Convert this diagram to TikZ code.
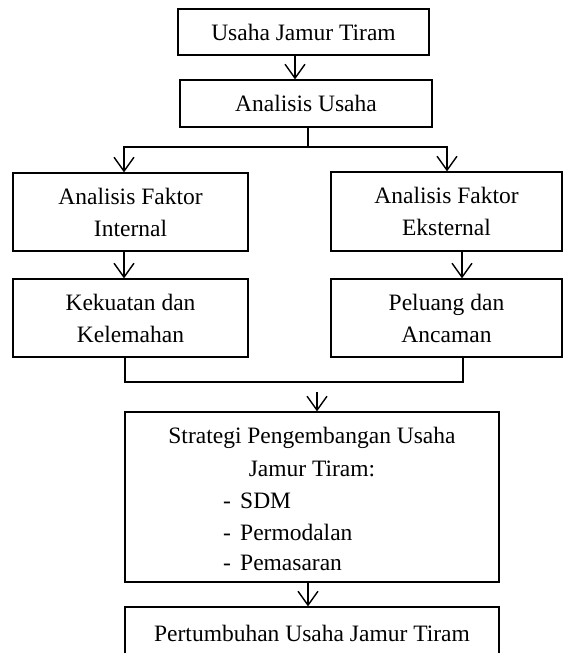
\documentclass[tikz,border=0pt]{standalone}
\usepackage{fontspec}
\setmainfont{Liberation Serif}
\usetikzlibrary{arrows.meta}
\begin{document}
\begin{tikzpicture}[x=1pt,y=-1pt,
  box/.style={draw,line width=1.2pt,inner sep=0pt,align=center,font=\fontsize{23.5}{32}\selectfont},
  txt/.style={inner sep=0pt,font=\fontsize{23.5}{32}\selectfont},
  arr/.style={line width=1.4pt,-{Straight Barb[length=14pt,width=20pt]}},
  ln/.style={line width=1.4pt}]
\useasboundingbox (0,0) rectangle (563,653);
\clip (0,0) rectangle (563,653);
% boxes
\node[box,minimum width=251pt,minimum height=46pt] (u1) at (303.5,32) {Usaha Jamur Tiram};
\node[box,minimum width=252pt,minimum height=47pt] (u2) at (306,103.5) {Analisis Usaha};
\node[box,minimum width=235pt,minimum height=78pt] (fi) at (130.5,212) {Analisis Faktor\\Internal};
\node[box,minimum width=231pt,minimum height=79pt] (fe) at (446.5,211.5) {Analisis Faktor\\Eksternal};
\node[box,minimum width=235pt,minimum height=78pt] (kk) at (130.5,318) {Kekuatan dan\\Kelemahan};
\node[box,minimum width=231pt,minimum height=78pt] (pa) at (446.5,318) {Peluang dan\\Ancaman};
\node[box,minimum width=374pt,minimum height=170pt] (st) at (312,497) {};
\node[box,minimum width=374pt,minimum height=53pt] (pu) at (312,633.5) {Pertumbuhan Usaha Jamur Tiram};
% strategy text
\node[txt,anchor=base] (s1) at (312,443) {Strategi Pengembangan Usaha};
\node[txt,anchor=base] (s2) at (312,476) {Jamur Tiram:};
\node[txt,anchor=base west] (s3) at (223,508) {\makebox[17pt][l]{-}SDM};
\node[txt,anchor=base west] (s4) at (223,540) {\makebox[17pt][l]{-}Permodalan};
\node[txt,anchor=base west] (s5) at (223,570) {\makebox[17pt][l]{-}Pemasaran};
% connectors
\draw[arr] ([xshift=-8.5pt]u1.south) -- ([xshift=-8.5pt]u1.south |- u2.north);
\coordinate (jt) at (308,147);
\draw[ln] (u2.south -| jt) -- (jt);
\draw[arr] (jt) -| ([xshift=-6.5pt]fi.north);
\draw[arr] (jt) -| ([xshift=0.5pt]fe.north);
\draw[arr] ([xshift=-6.5pt]fi.south) -- ([xshift=-6.5pt]kk.north);
\draw[arr] ([xshift=15.5pt]fe.south) -- ([xshift=15.5pt]fe.south |- pa.north);
\coordinate (jb) at (317,382);
\draw[ln] ([xshift=-5.5pt]kk.south) |- ([xshift=16.5pt]pa.south |- jb) -- ([xshift=16.5pt]pa.south);
\coordinate (as) at (317,392);
\draw[arr] (as) -- (as |- st.north);
\draw[arr] ([xshift=-4pt]st.south) -- ([xshift=-4pt]st.south |- pu.north);
\end{tikzpicture}
\end{document}
